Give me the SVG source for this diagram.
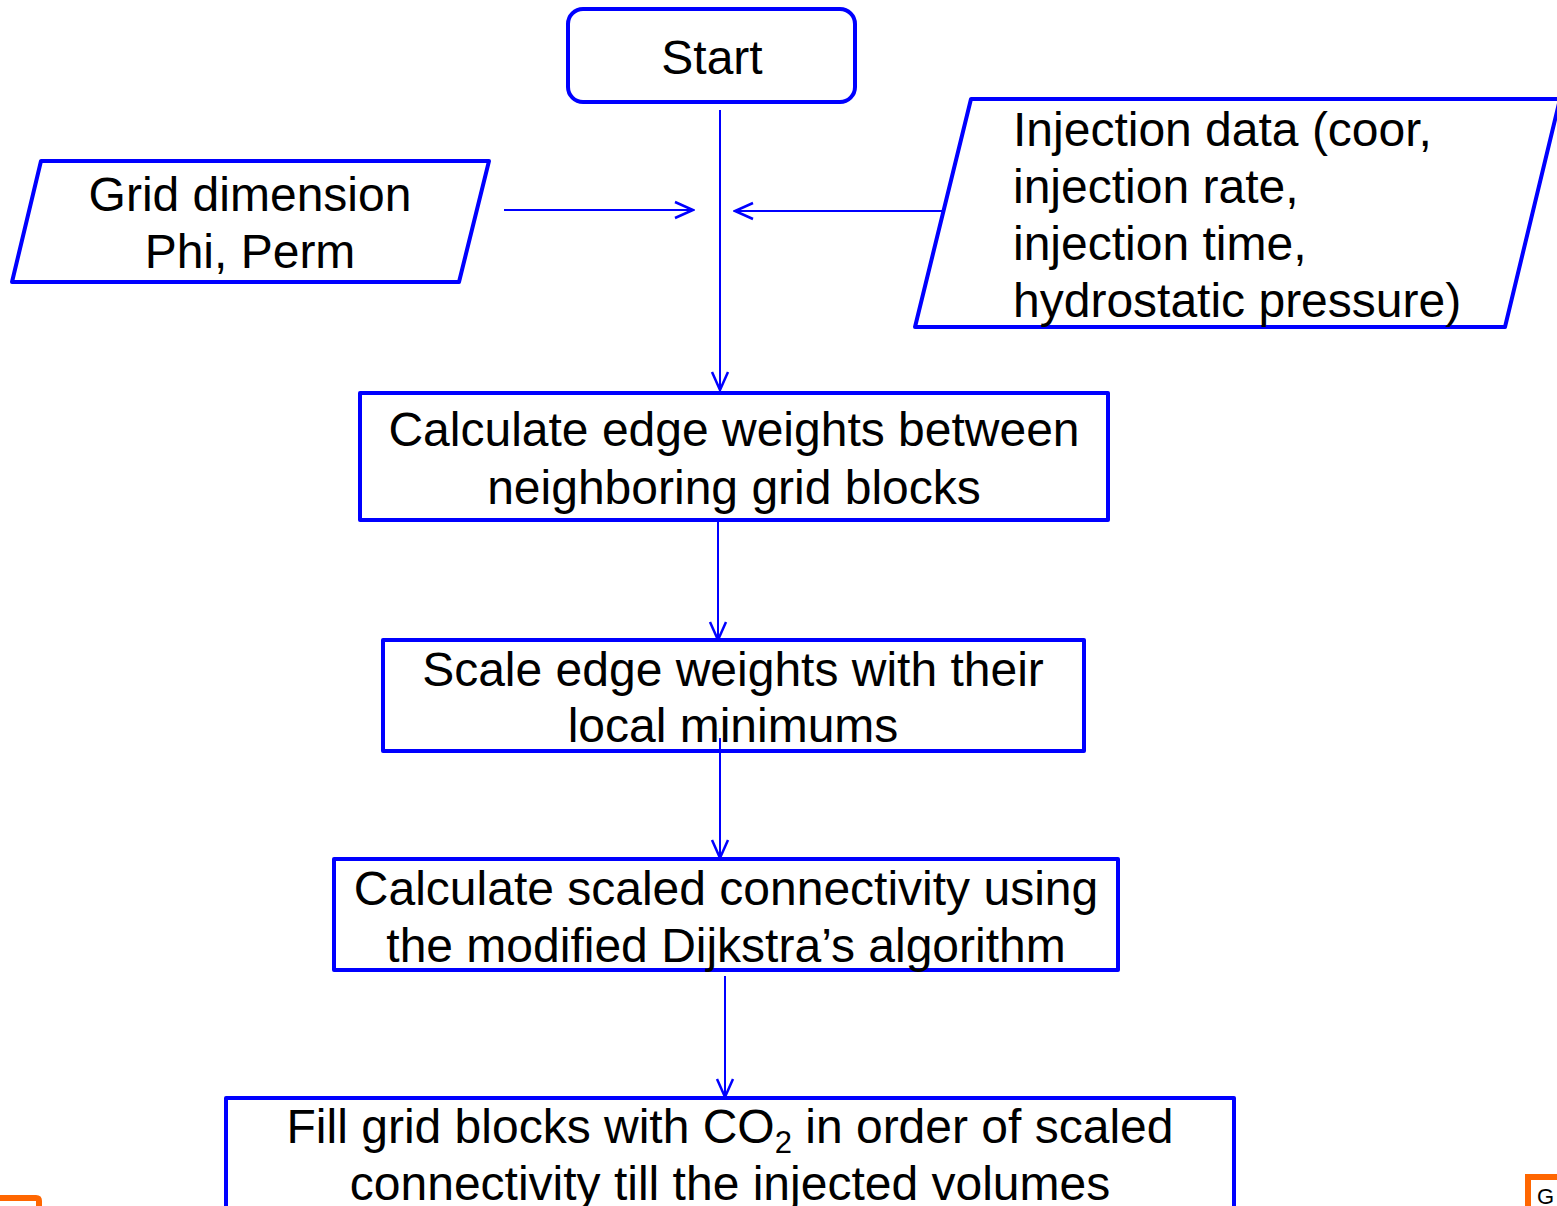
<svg xmlns="http://www.w3.org/2000/svg" width="1557" height="1206" viewBox="0 0 1557 1206">
<defs>
<style>
.shape{fill:#fff;stroke:#0000ff;stroke-width:4;stroke-linejoin:round}
.t{font-family:"Liberation Sans",Arial,sans-serif;font-size:48px;fill:#000}
.c{stroke:#0000ff;stroke-width:2;fill:none}
.orange{fill:none;stroke:#ff6600;stroke-width:6}
</style>
<marker id="ah" markerWidth="24" markerHeight="24" refX="22" refY="12" orient="auto" markerUnits="userSpaceOnUse">
<path d="M4,4 L22,12 L4,20" fill="none" stroke="#0000ff" stroke-width="2.5"/>
</marker>
</defs>
<rect width="1557" height="1206" fill="#fff"/>
<g id="connectors">
<line class="c" x1="720" y1="110" x2="720" y2="390" marker-end="url(#ah)"/>
<line class="c" x1="504" y1="210" x2="693" y2="210" marker-end="url(#ah)"/>
<line class="c" x1="947" y1="211" x2="735" y2="211" marker-end="url(#ah)"/>
<line class="c" x1="718" y1="520" x2="718" y2="640" marker-end="url(#ah)"/>
<line class="c" x1="725" y1="976" x2="725" y2="1097" marker-end="url(#ah)"/>
</g>
<g id="start">
<rect class="shape" x="568" y="9" width="287" height="93" rx="15"/>
<text class="t" x="712" y="74" text-anchor="middle">Start</text>
</g>
<g id="grid-input">
<polygon class="shape" points="41,161 489,161 459,282 12,282"/>
<text class="t" x="250" y="211" text-anchor="middle">Grid dimension</text>
<text class="t" x="250" y="268" text-anchor="middle">Phi, Perm</text>
</g>
<g id="injection-input">
<polygon class="shape" points="971,99 1560,99 1505,327 915,327"/>
<text class="t" x="1013" y="146">Injection data (coor,</text>
<text class="t" x="1013" y="203">injection rate,</text>
<text class="t" x="1013" y="260">injection time,</text>
<text class="t" x="1013" y="317">hydrostatic pressure)</text>
</g>
<g id="edge-weights">
<rect class="shape" x="360" y="393" width="748" height="127" stroke-linejoin="miter"/>
<text class="t" x="734" y="446" text-anchor="middle">Calculate edge weights between</text>
<text class="t" x="734" y="504" text-anchor="middle">neighboring grid blocks</text>
</g>
<g id="scale">
<rect class="shape" x="383" y="640" width="701" height="111" stroke-linejoin="miter"/>
<text class="t" x="733" y="686" text-anchor="middle">Scale edge weights with their</text>
<text class="t" x="733" y="742" text-anchor="middle">local minimums</text>
</g>
<g id="connector-over">
<line class="c" x1="720" y1="738" x2="720" y2="858" marker-end="url(#ah)"/>
</g>
<g id="dijkstra">
<rect class="shape" x="334" y="859" width="784" height="111" stroke-linejoin="miter"/>
<text class="t" x="726" y="905" text-anchor="middle">Calculate scaled connectivity using</text>
<text class="t" x="726" y="962" text-anchor="middle">the modified Dijkstra’s algorithm</text>
</g>
<g id="fill">
<rect class="shape" x="226" y="1098" width="1008" height="130" stroke-linejoin="miter"/>
<text class="t" x="730" y="1143" text-anchor="middle">Fill grid blocks with CO<tspan font-size="31" dy="10">2</tspan><tspan dy="-10"> in order of scaled</tspan></text>
<text class="t" x="730" y="1200" text-anchor="middle">connectivity till the injected volumes</text>
</g>
<g id="corner-marks">
<path d="M0,1198 H36 Q39,1198 39,1201 V1206" class="orange"/>
<path d="M1528,1206 V1177 H1560" class="orange"/>
<text x="1537" y="1204" font-family="Liberation Sans,Arial,sans-serif" font-size="22" fill="#000">G</text>
</g>
</svg>
